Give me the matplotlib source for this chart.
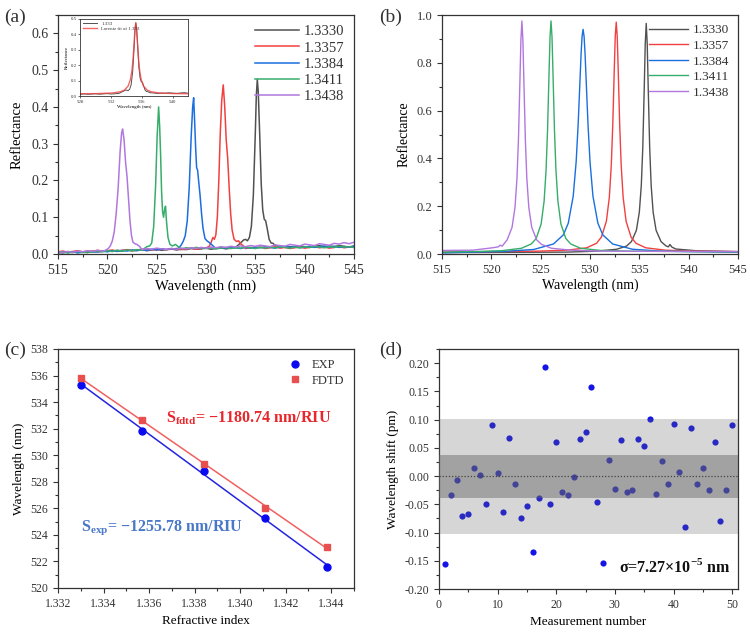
import numpy as np
import matplotlib
matplotlib.use('Agg')
import matplotlib.pyplot as plt
from matplotlib.ticker import MultipleLocator

plt.rcParams['font.family'] = ['Liberation Serif', 'DejaVu Serif']
plt.rcParams['mathtext.fontset'] = 'custom'
plt.rcParams['mathtext.rm'] = 'Liberation Serif'
plt.rcParams['mathtext.bf'] = 'Liberation Serif:bold'
plt.rcParams['text.color'] = '#333333'
plt.rcParams['axes.edgecolor'] = '#333333'
plt.rcParams['xtick.color'] = '#333333'
plt.rcParams['ytick.color'] = '#333333'

labels_ri = ['1.3330', '1.3357', '1.3384', '1.3411', '1.3438']
colors = ['#515151', '#F14040', '#1A6FDF', '#37AD6B', '#B177DE']

# ---- (a) measured spectra: noisy baseline (every 0.5 nm) + resonance points
base_wl = np.arange(515, 545.01, 0.5)
gray_base = [0.005, 0.003, 0.006, 0.004, 0.007, 0.005, 0.004, 0.008, 0.006, 0.007,
             0.009, 0.007, 0.010, 0.008, 0.011, 0.009, 0.010, 0.012, 0.009, 0.011,
             0.013, 0.010, 0.012, 0.014, 0.011, 0.013, 0.012, 0.015, 0.013, 0.014,
             0.016, 0.013, 0.015, 0.017, 0.014, 0.016, 0.018, 0.015, 0.017, 0.019,
             0.016, 0.018, 0.020, 0.017, 0.019, 0.021, 0.018, 0.020, 0.019, 0.022,
             0.020, 0.018, 0.021, 0.023, 0.019, 0.022, 0.020, 0.023, 0.021, 0.019, 0.022]
red_base = [0.006, 0.008, 0.005, 0.007, 0.009, 0.006, 0.008, 0.007, 0.010, 0.008,
            0.009, 0.011, 0.008, 0.010, 0.012, 0.009, 0.011, 0.013, 0.010, 0.012,
            0.011, 0.014, 0.012, 0.013, 0.015, 0.012, 0.014, 0.016, 0.013, 0.015,
            0.017, 0.014, 0.016, 0.015, 0.018, 0.016, 0.014, 0.017, 0.015, 0.018,
            0.016, 0.019, 0.015, 0.017, 0.020, 0.016, 0.018, 0.015, 0.017, 0.019,
            0.016, 0.018, 0.020, 0.017, 0.019, 0.016, 0.018, 0.020, 0.017, 0.019, 0.018]
blue_base = [0.003, 0.005, 0.004, 0.006, 0.003, 0.005, 0.007, 0.005, 0.006, 0.008,
             0.006, 0.009, 0.007, 0.010, 0.008, 0.011, 0.009, 0.012, 0.010, 0.013,
             0.011, 0.014, 0.012, 0.015, 0.013, 0.016, 0.014, 0.015, 0.017, 0.014,
             0.016, 0.018, 0.015, 0.017, 0.016, 0.019, 0.017, 0.015, 0.018, 0.016,
             0.019, 0.017, 0.020, 0.018, 0.016, 0.019, 0.021, 0.018, 0.020, 0.017,
             0.019, 0.021, 0.018, 0.020, 0.022, 0.019, 0.021, 0.018, 0.020, 0.019, 0.021]
green_base = [0.004, 0.006, 0.003, 0.005, 0.007, 0.004, 0.006, 0.005, 0.008, 0.006,
              0.009, 0.007, 0.010, 0.008, 0.011, 0.009, 0.012, 0.010, 0.013, 0.011,
              0.014, 0.012, 0.015, 0.013, 0.016, 0.014, 0.017, 0.015, 0.018, 0.016,
              0.015, 0.017, 0.014, 0.016, 0.018, 0.015, 0.017, 0.016, 0.019, 0.017,
              0.015, 0.018, 0.016, 0.019, 0.017, 0.020, 0.018, 0.016, 0.019, 0.017,
              0.020, 0.018, 0.021, 0.019, 0.017, 0.020, 0.018, 0.021, 0.019, 0.020, 0.018]
purple_base = [0.006, 0.004, 0.007, 0.005, 0.008, 0.006, 0.009, 0.007, 0.010, 0.008,
               0.011, 0.009, 0.012, 0.010, 0.013, 0.011, 0.014, 0.012, 0.015, 0.013,
               0.016, 0.014, 0.012, 0.015, 0.013, 0.016, 0.014, 0.017, 0.015, 0.018,
               0.016, 0.019, 0.017, 0.020, 0.018, 0.021, 0.019, 0.022, 0.020, 0.023,
               0.021, 0.024, 0.022, 0.020, 0.025, 0.023, 0.021, 0.026, 0.024, 0.022,
               0.027, 0.025, 0.023, 0.028, 0.026, 0.024, 0.029, 0.027, 0.031, 0.028, 0.032]

gray_pk_wl = [533.5, 533.8, 534.0, 534.2, 534.4, 534.6, 534.8, 535.0, 535.1, 535.2,
              535.3, 535.45, 535.6, 535.75, 535.9, 536.05, 536.2, 536.4, 536.6, 536.8, 537.0]
gray_pk_r = [0.030, 0.038, 0.040, 0.036, 0.045, 0.075, 0.160, 0.330, 0.430, 0.475,
             0.440, 0.320, 0.190, 0.120, 0.095, 0.090, 0.070, 0.040, 0.030, 0.029, 0.023]
red_pk_wl = [530.3, 530.5, 530.7, 530.85, 531.0, 531.15, 531.3, 531.45, 531.6, 531.75,
             531.9, 532.05, 532.2, 532.35, 532.5, 532.65, 532.85, 533.1, 533.3, 533.5, 533.8]
red_pk_r = [0.020, 0.030, 0.045, 0.040, 0.052, 0.100, 0.200, 0.330, 0.420, 0.460,
            0.400, 0.310, 0.260, 0.180, 0.110, 0.065, 0.040, 0.034, 0.036, 0.028, 0.022]
blue_pk_wl = [527.3, 527.5, 527.7, 527.9, 528.1, 528.3, 528.5, 528.65, 528.75, 528.85,
              528.95, 529.05, 529.15, 529.25, 529.4, 529.55, 529.7, 529.9, 530.1, 530.3, 530.6]
blue_pk_r = [0.018, 0.025, 0.035, 0.050, 0.090, 0.180, 0.320, 0.400, 0.425, 0.360,
             0.290, 0.235, 0.228, 0.200, 0.160, 0.110, 0.070, 0.042, 0.036, 0.032, 0.025]
green_pk_wl = [524.0, 524.3, 524.5, 524.7, 524.9, 525.05, 525.2, 525.3, 525.4, 525.5,
               525.6, 525.7, 525.8, 525.9, 526.0, 526.15, 526.35, 526.6, 526.9, 527.2]
green_pk_r = [0.020, 0.022, 0.030, 0.075, 0.190, 0.320, 0.400, 0.350, 0.270, 0.170,
              0.115, 0.100, 0.120, 0.130, 0.088, 0.045, 0.026, 0.022, 0.026, 0.020]
purple_pk_wl = [519.8, 520.1, 520.3, 520.5, 520.7, 520.9, 521.1, 521.3, 521.45, 521.55,
                521.7, 521.85, 522.0, 522.15, 522.3, 522.45, 522.6, 522.8, 523.0, 523.3]
purple_pk_r = [0.010, 0.015, 0.022, 0.035, 0.060, 0.110, 0.180, 0.280, 0.330, 0.340,
               0.310, 0.250, 0.210, 0.150, 0.090, 0.050, 0.032, 0.028, 0.026, 0.020]

exp_sets = [(gray_base, gray_pk_wl, gray_pk_r), (red_base, red_pk_wl, red_pk_r),
            (blue_base, blue_pk_wl, blue_pk_r), (green_base, green_pk_wl, green_pk_r),
            (purple_base, purple_pk_wl, purple_pk_r)]

# inset: Lorentz fit of the 1.333 peak
fit_wl = [528, 530.2, 532.2, 533.2, 533.7, 534.2, 534.5, 534.7, 534.85, 535.0, 535.1, 535.2,
          535.3, 535.4, 535.55, 535.7, 535.9, 536.2, 536.7, 537.2, 538.2, 540.2, 542]
fit_r = [0.016, 0.017, 0.021, 0.029, 0.039, 0.065, 0.107, 0.166, 0.245, 0.362, 0.440, 0.475,
         0.440, 0.362, 0.245, 0.166, 0.107, 0.065, 0.039, 0.029, 0.021, 0.017, 0.016]

# ---- (b) FDTD spectra
fd_gray_wl = [515, 527.7, 530.7, 532.7, 533.7, 534.2, 534.7, 535.0, 535.2, 535.35, 535.5, 535.6,
              535.7, 535.8, 535.9, 536.05, 536.2, 536.4, 536.7, 537.2, 537.7, 537.95, 538.1,
              538.3, 538.7, 540.7, 545]
fd_gray_r = [0.006, 0.008, 0.012, 0.020, 0.033, 0.052, 0.099, 0.175, 0.287, 0.445, 0.697, 0.880,
             0.965, 0.880, 0.697, 0.445, 0.287, 0.175, 0.099, 0.052, 0.034, 0.030, 0.040,
             0.029, 0.021, 0.014, 0.010]
fd_red_wl = [515, 524.66, 527.66, 529.66, 530.66, 531.16, 531.66, 531.96, 532.16, 532.31, 532.46,
             532.56, 532.66, 532.76, 532.86, 533.01, 533.16, 533.36, 533.66, 534.16, 534.66,
             535.66, 537.66, 540.66, 545]
fd_red_r = [0.008, 0.012, 0.016, 0.026, 0.045, 0.071, 0.137, 0.237, 0.373, 0.542, 0.770,
            0.911, 0.970, 0.911, 0.770, 0.542, 0.373, 0.237, 0.137, 0.071, 0.045,
            0.026, 0.016, 0.012, 0.010]
fd_blue_wl = [515, 521.3, 524.3, 526.3, 527.3, 527.8, 528.3, 528.6, 528.8, 528.95, 529.1, 529.2,
              529.3, 529.4, 529.5, 529.65, 529.8, 530.0, 530.3, 530.8, 531.3, 532.3, 534.3,
              537.3, 545]
fd_blue_r = [0.005, 0.011, 0.019, 0.042, 0.080, 0.129, 0.242, 0.387, 0.542, 0.690, 0.839, 0.911,
             0.940, 0.911, 0.839, 0.690, 0.542, 0.387, 0.242, 0.129, 0.080, 0.042, 0.020,
             0.012, 0.007]
fd_green_wl = [515, 518.05, 521.05, 523.05, 524.05, 524.55, 525.05, 525.35, 525.55, 525.7, 525.85,
               525.95, 526.05, 526.15, 526.25, 526.4, 526.55, 526.75, 527.05, 527.55, 528.05,
               529.05, 531.05, 534.05, 545]
fd_green_r = [0.008, 0.010, 0.014, 0.024, 0.042, 0.065, 0.126, 0.221, 0.351, 0.519, 0.757,
              0.909, 0.975, 0.909, 0.757, 0.519, 0.351, 0.221, 0.126, 0.065, 0.042,
              0.024, 0.015, 0.012, 0.009]
fd_purple_wl = [515, 518.1, 520.1, 520.7, 520.9, 521.1, 521.6, 522.1, 522.4, 522.6, 522.75, 522.9,
                523.0, 523.1, 523.2, 523.3, 523.45, 523.6, 523.8, 524.1, 524.6, 525.1, 526.1,
                528.1, 531.1, 545]
fd_purple_r = [0.015, 0.016, 0.026, 0.030, 0.037, 0.033, 0.059, 0.111, 0.195, 0.316, 0.478, 0.725,
               0.896, 0.975, 0.896, 0.725, 0.478, 0.316, 0.195, 0.111, 0.059, 0.040, 0.024,
               0.016, 0.012, 0.010]
fdtd_sets = [(fd_gray_wl, fd_gray_r), (fd_red_wl, fd_red_r), (fd_blue_wl, fd_blue_r),
             (fd_green_wl, fd_green_r), (fd_purple_wl, fd_purple_r)]

# ---- (c) resonance vs refractive index
ri = [1.3330, 1.3357, 1.3384, 1.3411, 1.3438]
wl_exp = [535.30, 531.85, 528.80, 525.25, 521.60]
wl_fdtd = [535.80, 532.65, 529.35, 526.05, 523.10]

# ---- (d) repeated measurements
meas_no = np.arange(1, 51)
shift_pm = [-0.155, -0.034, -0.007, -0.070, -0.068, 0.015, 0.002, -0.050, 0.091, 0.005,
            -0.064, 0.067, -0.014, -0.074, -0.053, -0.134, -0.038, 0.194, -0.049, 0.060,
            -0.029, -0.033, -0.001, 0.065, 0.078, 0.157, -0.046, -0.154, 0.029, -0.022,
            0.064, -0.029, -0.024, 0.065, 0.053, 0.102, -0.032, 0.026, -0.014, 0.093,
            0.008, -0.090, 0.085, -0.014, 0.014, -0.025, 0.061, -0.080, -0.025, 0.091]
band_outer = (-0.103, 0.102)
band_inner = (-0.038, 0.037)

fig = plt.figure(figsize=(7.5, 6.33), dpi=100)


def style_axes(ax, size):
    ax.tick_params(which='both', direction='out', labelsize=size, width=0.8)
    ax.tick_params(which='major', length=3.5)
    ax.tick_params(which='minor', length=2)
    for s in ax.spines.values():
        s.set_linewidth(0.9)


# (a)
ax_a = fig.add_axes([0.0773, 0.5987, 0.3947, 0.3776])
for (base, pk_wl, pk_r), lab, c in zip(exp_sets, labels_ri, colors):
    base = np.asarray(base)
    keep = (base_wl < pk_wl[0]) | (base_wl > pk_wl[-1])
    x = np.concatenate([base_wl[keep], pk_wl])
    y = np.concatenate([base[keep], pk_r])
    order = np.argsort(x)
    ax_a.plot(x[order], y[order], color=c, lw=1.1, label=lab)
ax_a.set_xlim(515, 545)
ax_a.set_ylim(0, 0.65)
ax_a.xaxis.set_major_locator(MultipleLocator(5))
ax_a.xaxis.set_minor_locator(MultipleLocator(2.5))
ax_a.yaxis.set_major_locator(MultipleLocator(0.1))
ax_a.yaxis.set_minor_locator(MultipleLocator(0.05))
style_axes(ax_a, 10)
ax_a.set_xlabel('Wavelength (nm)', fontsize=10.5, labelpad=2)
ax_a.set_ylabel('Reflectance', fontsize=10.5, labelpad=5)
ax_a.legend(loc='upper right', frameon=False, fontsize=10.5, handlelength=3,
            handletextpad=0.3, labelspacing=0.2, borderaxespad=0.3)
fig.text(0.005, 0.965, '(a)', fontsize=14)

# inset
ax_in = fig.add_axes([0.107, 0.848, 0.144, 0.122])
gb = np.asarray(gray_base)
keep = (base_wl < gray_pk_wl[0]) | (base_wl > gray_pk_wl[-1])
xg = np.concatenate([base_wl[keep], gray_pk_wl])
yg = np.concatenate([gb[keep], gray_pk_r])
order = np.argsort(xg)
ax_in.plot(xg[order], yg[order], color='#515151', lw=0.7, label='1.333')
ax_in.plot(fit_wl, fit_r, color='#F14040', lw=1.0, alpha=0.8, label='Lorentz fit of 1.333')
ax_in.set_xlim(528, 542)
ax_in.set_ylim(0, 0.5)
ax_in.set_xticks([528, 532, 536, 540])
ax_in.set_yticks([0.0, 0.1, 0.2, 0.3, 0.4, 0.5])
ax_in.tick_params(labelsize=3.5, length=1.5, width=0.5, pad=1)
for s in ax_in.spines.values():
    s.set_linewidth(0.6)
ax_in.set_xlabel('Wavelength (nm)', fontsize=3.5, labelpad=1)
ax_in.set_ylabel('Reflectance', fontsize=3.5, labelpad=1)
ax_in.legend(loc='upper left', frameon=False, fontsize=3.5, handlelength=3,
             labelspacing=0.1, borderaxespad=0.1)

# (b)
ax_b = fig.add_axes([0.5893, 0.5987, 0.3947, 0.3776])
for (x, y), lab, c in zip(fdtd_sets, labels_ri, colors):
    ax_b.plot(x, y, color=c, lw=1.0, label=lab)
ax_b.set_xlim(515, 545)
ax_b.set_ylim(0, 1.0)
ax_b.xaxis.set_major_locator(MultipleLocator(5))
ax_b.xaxis.set_minor_locator(MultipleLocator(2.5))
ax_b.yaxis.set_major_locator(MultipleLocator(0.2))
ax_b.yaxis.set_minor_locator(MultipleLocator(0.1))
style_axes(ax_b, 9)
ax_b.set_xlabel('Wavelength (nm)', fontsize=10, labelpad=2)
ax_b.set_ylabel('Reflectance', fontsize=10, labelpad=4)
ax_b.legend(loc='upper right', frameon=False, fontsize=9.5, handlelength=3,
            handletextpad=0.3, labelspacing=0.25, borderaxespad=0.3)
fig.text(0.505, 0.965, '(b)', fontsize=14)

# (c)
ax_c = fig.add_axes([0.0773, 0.0711, 0.3947, 0.3776])
ri_arr = np.array(ri)
p_exp = np.polyfit(ri_arr, wl_exp, 1)
p_fd = np.polyfit(ri_arr, wl_fdtd, 1)
ax_c.plot(ri_arr, np.polyval(p_exp, ri_arr), color='#2424E0', lw=1.1, zorder=2)
ax_c.plot(ri_arr, np.polyval(p_fd, ri_arr), color='#F06060', lw=1.1, zorder=2)
ax_c.plot(ri, wl_exp, 'o', color='#0A0AF0', ms=5, label='EXP', zorder=3)
ax_c.plot(ri, wl_fdtd, 's', color='#E85050', ms=4.3, label='FDTD', zorder=3)
ax_c.set_xlim(1.332, 1.345)
ax_c.set_ylim(520, 538)
ax_c.xaxis.set_major_locator(MultipleLocator(0.002))
ax_c.xaxis.set_minor_locator(MultipleLocator(0.001))
ax_c.yaxis.set_major_locator(MultipleLocator(2))
ax_c.yaxis.set_minor_locator(MultipleLocator(1))
ax_c.xaxis.set_major_formatter(plt.FormatStrFormatter('%.3f'))
style_axes(ax_c, 8.5)
ax_c.set_xlabel('Refractive index', fontsize=9.5, labelpad=4)
ax_c.set_ylabel('Wavelength (nm)', fontsize=9.5, labelpad=4)
ax_c.legend(loc='upper right', frameon=False, fontsize=9, handletextpad=0.3,
            labelspacing=0.3, borderaxespad=0.4)
ax_c.text(1.33675, 532.75, r'$\mathbf{S_{fdtd}}$= −1180.74 nm/RIU', color='#E8262B',
          fontsize=11.5, fontweight='bold', va='center')
ax_c.text(1.3330, 524.55, r'$\mathbf{S_{exp}}$= −1255.78 nm/RIU', color='#4A78C8',
          fontsize=11.5, fontweight='bold', va='center')
fig.text(0.005, 0.44, '(c)', fontsize=14)

# (d)
ax_d = fig.add_axes([0.5853, 0.0695, 0.3987, 0.379])
ax_d.scatter(meas_no, shift_pm, s=20, color='#1414E6', zorder=2, linewidths=0)
ax_d.axhspan(band_outer[0], band_outer[1], color='#646464', alpha=0.26, lw=0, zorder=3)
ax_d.axhspan(band_inner[0], band_inner[1], color='#646464', alpha=0.45, lw=0, zorder=3)
ax_d.axhline(0, color='#444444', lw=0.9, ls=(0, (1, 1.5)), zorder=4)
ax_d.set_xlim(0, 51)
ax_d.set_ylim(-0.20, 0.225)
ax_d.xaxis.set_major_locator(MultipleLocator(10))
ax_d.xaxis.set_minor_locator(MultipleLocator(5))
ax_d.yaxis.set_major_locator(MultipleLocator(0.05))
ax_d.yaxis.set_minor_locator(MultipleLocator(0.025))
ax_d.yaxis.set_major_formatter(plt.FormatStrFormatter('%.2f'))
style_axes(ax_d, 8.5)
ax_d.set_xlabel('Measurement number', fontsize=9.5, labelpad=4)
ax_d.set_ylabel('Wavelength shift (pm)', fontsize=9.5, labelpad=4)
ax_d.text(0.975, 0.09, r'σ=7.27×10$^{\mathbf{−5}}$ nm', transform=ax_d.transAxes,
          ha='right', va='center', fontsize=11.5, fontweight='bold', color='#111111')
fig.text(0.505, 0.44, '(d)', fontsize=14)

fig.savefig('out.png', dpi=100)
